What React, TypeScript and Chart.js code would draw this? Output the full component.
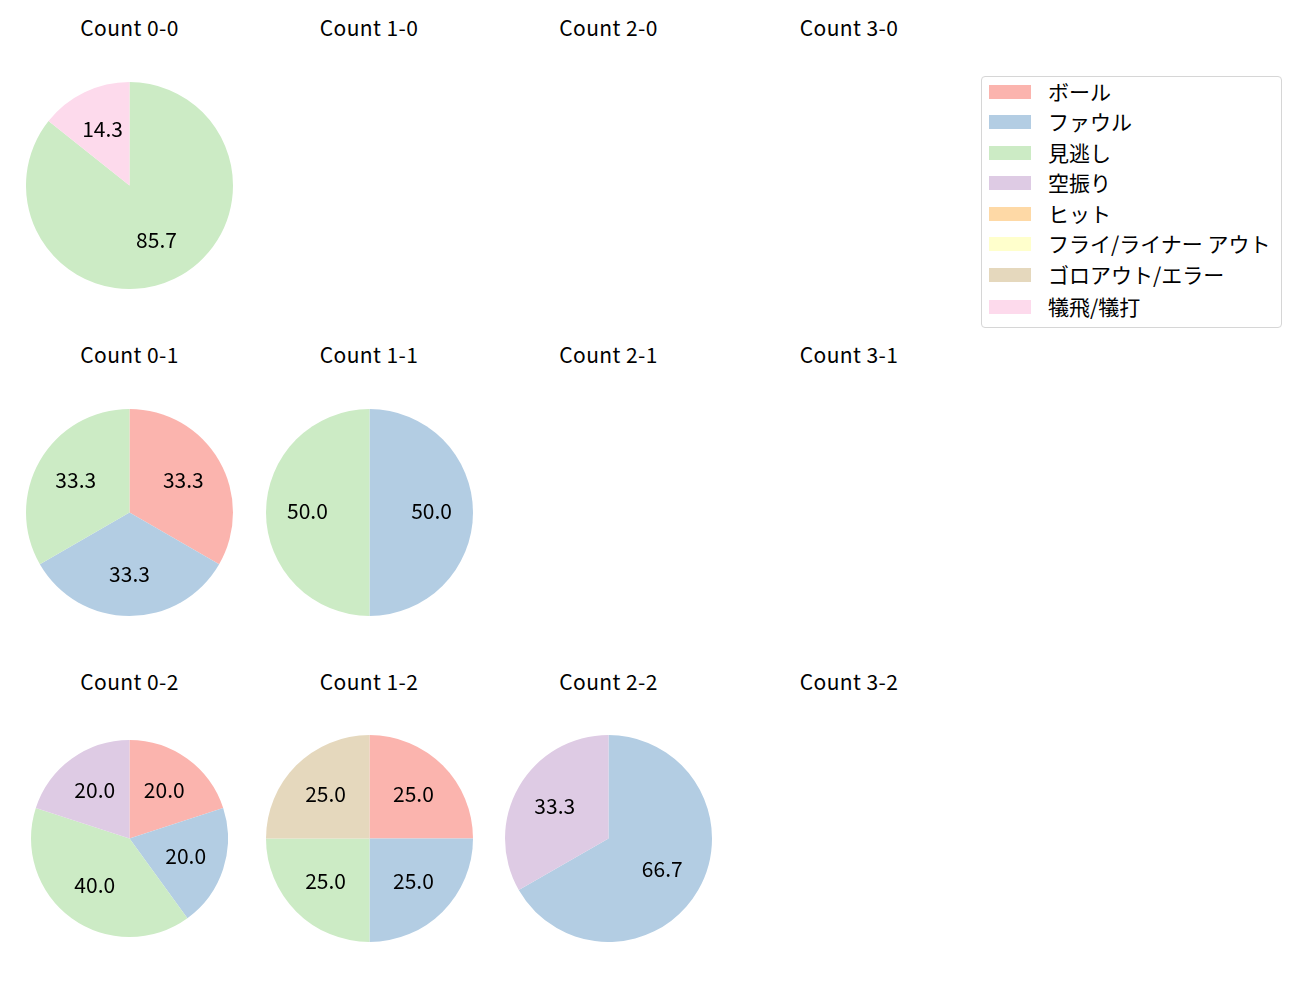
import React, { useEffect, useRef } from "react";
import { Chart, registerables } from "chart.js";

Chart.register(...registerables);

const categories = ["ボール", "ファウル", "見逃し", "空振り", "ヒット", "フライ/ライナー アウト", "ゴロアウト/エラー", "犠飛/犠打"];
const colors = ["#fbb4ae", "#b3cde3", "#ccebc5", "#decbe4", "#fed9a6", "#ffffcc", "#e5d8bd", "#fddaec"];

const balls = [0, 1, 2, 3];
const strikes = [0, 1, 2];

// percentages per count (order follows categories)
const count00 = [0, 0, 85.7, 0, 0, 0, 0, 14.3];
const count01 = [33.3, 33.3, 33.3, 0, 0, 0, 0, 0];
const count11 = [0, 50.0, 50.0, 0, 0, 0, 0, 0];
const count02 = [20.0, 20.0, 40.0, 20.0, 0, 0, 0, 0];
const count12 = [25.0, 25.0, 25.0, 0, 0, 0, 25.0, 0];
const count22 = [0, 66.7, 0, 33.3, 0, 0, 0, 0];

const pieData: Record<string, number[]> = {
  "0-0": count00,
  "0-1": count01,
  "1-1": count11,
  "0-2": count02,
  "1-2": count12,
  "2-2": count22,
};

const FONT = "'Noto Sans CJK JP', 'Noto Sans', sans-serif";
const FS = 21;

const colX = [129.5, 369, 608.5, 849];
const rowY = [185.5, 512.5, 838.5];
const titleY = [27, 354, 681];
const radii: Record<string, number> = { "0-2": 98.5 };

const pctLabels = {
  id: "pctLabels",
  afterDatasetsDraw(chart: any) {
    const ctx = chart.ctx;
    const data: number[] = chart.data.datasets[0].data;
    const total = data.reduce((a, b) => a + b, 0);
    const meta = chart.getDatasetMeta(0);
    ctx.save();
    ctx.fillStyle = "#000";
    ctx.font = `${FS}px ${FONT}`;
    ctx.textAlign = "center";
    ctx.textBaseline = "middle";
    meta.data.forEach((arc: any, i: number) => {
      if (!data[i]) return;
      const p = arc.getProps(["x", "y", "startAngle", "endAngle", "outerRadius"], true);
      const mid = (p.startAngle + p.endAngle) / 2;
      const r = p.outerRadius * 0.6;
      ctx.fillText(((data[i] / total) * 100).toFixed(1), p.x + Math.cos(mid) * r, p.y + Math.sin(mid) * r - 1);
    });
    ctx.restore();
  },
};

function Pie({ values, r }: { values: number[]; r: number }) {
  const ref = useRef<HTMLCanvasElement>(null);
  useEffect(() => {
    const chart = new Chart(ref.current!, {
      type: "pie",
      data: {
        labels: categories,
        datasets: [{ data: values, backgroundColor: colors, borderWidth: 0, hoverOffset: 0 }],
      },
      options: {
        animation: false,
        responsive: false,
        maintainAspectRatio: false,
        layout: { padding: 0 },
        plugins: { legend: { display: false }, tooltip: { enabled: false } },
        events: [],
      },
      plugins: [pctLabels],
    });
    return () => chart.destroy();
  }, [values, r]);
  return <canvas ref={ref} width={Math.round(2 * r)} height={Math.round(2 * r)} />;
}

export default function App() {
  const items: React.ReactNode[] = [];
  strikes.forEach((s, ri) => {
    balls.forEach((b, ci) => {
      const key = `${b}-${s}`;
      items.push(
        <div
          key={"t" + key}
          style={{
            position: "absolute",
            left: colX[ci] - 100,
            width: 200,
            top: titleY[ri] - 15,
            height: 30,
            lineHeight: "30px",
            textAlign: "center",
            fontSize: FS,
            letterSpacing: 0.4,
            color: "#000",
          }}
        >
          Count {key}
        </div>
      );
      const vals = pieData[key];
      if (vals) {
        const r = radii[key] ?? 103.5;
        items.push(
          <div
            key={"p" + key}
            style={{ position: "absolute", left: colX[ci] - r, top: rowY[ri] - r, width: 2 * r, height: 2 * r }}
          >
            <Pie values={vals} r={r} />
          </div>
        );
      }
    });
  });

  const legendRowY = [91, 121, 152, 182, 213, 243, 274, 306];

  return (
    <div
      style={{
        position: "absolute",
        left: 0,
        top: 0,
        width: 1300,
        height: 1000,
        background: "#fff",
        fontFamily: FONT,
        overflow: "hidden",
      }}
    >
      {items}
      <div
        style={{
          position: "absolute",
          left: 981,
          top: 76,
          width: 301,
          height: 252,
          border: "1px solid #d6d6d6",
          borderRadius: 4,
          boxSizing: "border-box",
        }}
      />
      {categories.map((c, i) => (
        <React.Fragment key={c}>
          <div
            style={{
              position: "absolute",
              left: 989,
              top: legendRowY[i] - 6,
              width: 42,
              height: 14,
              background: colors[i],
            }}
          />
          <div
            style={{
              position: "absolute",
              left: 1048,
              top: legendRowY[i] - 15,
              height: 30,
              lineHeight: "30px",
              fontSize: FS,
              color: "#000",
              whiteSpace: "pre",
            }}
          >
            {c}
          </div>
        </React.Fragment>
      ))}
    </div>
  );
}
